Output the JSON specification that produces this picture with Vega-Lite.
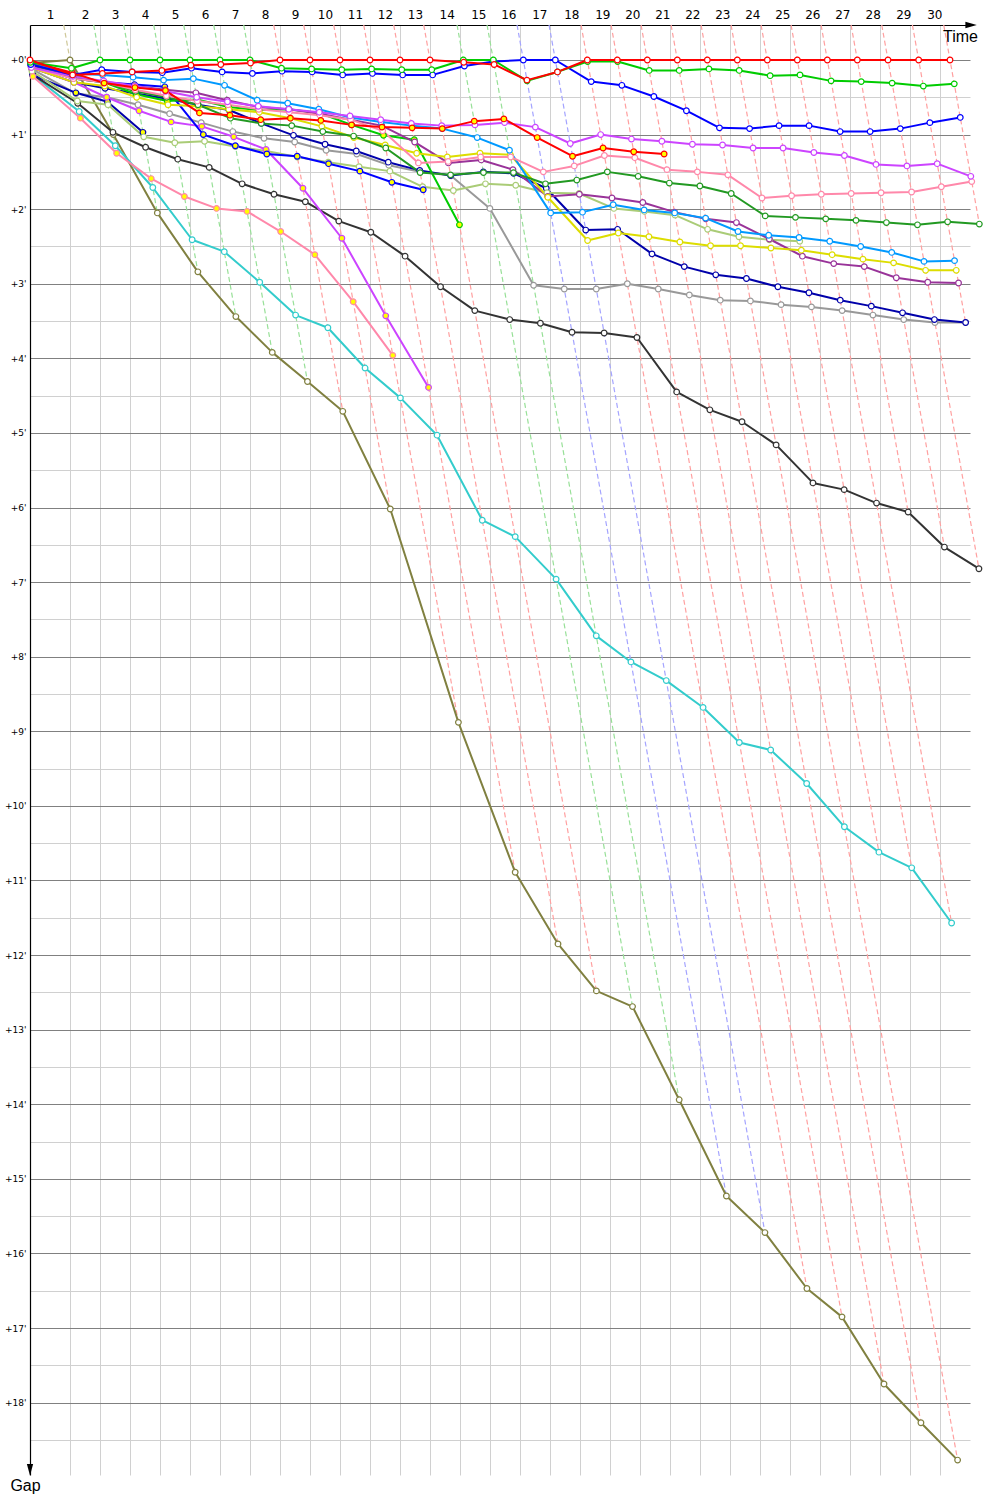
{
"$schema":"https://vega.github.io/schema/vega-lite/v6.json",
"width":940,"height":1450,
"autosize":{"type":"none"},
"padding":{"left":30,"top":25,"right":30,"bottom":25},
"background":"white",
"config":{"view":{"stroke":null}},
"datasets":{
"laps":[
{"lap":1,"lead":"O","t":2.53,"g":-0.47},{"lap":1,"lead":"O","t":3.78,"g":0.78},
{"lap":2,"lead":"G","t":4.78,"g":-0.47},{"lap":2,"lead":"G","t":6.5,"g":1.25},
{"lap":3,"lead":"G","t":7.03,"g":-0.47},{"lap":3,"lead":"G","t":9.55,"g":2.05},
{"lap":4,"lead":"G","t":9.28,"g":-0.47},{"lap":4,"lead":"G","t":12.59,"g":2.84},
{"lap":5,"lead":"G","t":11.53,"g":-0.47},{"lap":5,"lead":"G","t":15.44,"g":3.44},
{"lap":6,"lead":"G","t":13.78,"g":-0.47},{"lap":6,"lead":"G","t":18.17,"g":3.92},
{"lap":7,"lead":"G","t":16.03,"g":-0.47},{"lap":7,"lead":"G","t":20.81,"g":4.31},
{"lap":8,"lead":"R","t":18.28,"g":-0.47},{"lap":8,"lead":"R","t":23.46,"g":4.71},
{"lap":9,"lead":"R","t":20.53,"g":-0.47},{"lap":9,"lead":"R","t":27.02,"g":6.02},
{"lap":10,"lead":"R","t":22.78,"g":-0.47},{"lap":10,"lead":"R","t":32.13,"g":8.88},
{"lap":11,"lead":"R","t":25.03,"g":-0.47},{"lap":11,"lead":"R","t":36.39,"g":10.89},
{"lap":12,"lead":"R","t":27.28,"g":-0.47},{"lap":12,"lead":"R","t":39.6,"g":11.85},
{"lap":13,"lead":"R","t":29.53,"g":-0.47},{"lap":13,"lead":"R","t":42.48,"g":12.48},
{"lap":14,"lead":"G","t":32.03,"g":-0.47},{"lap":14,"lead":"G","t":45.19,"g":12.69},
{"lap":15,"lead":"G","t":34.28,"g":-0.47},{"lap":15,"lead":"G","t":48.69,"g":13.94},
{"lap":16,"lead":"B","t":36.53,"g":-0.47},{"lap":16,"lead":"B","t":52.23,"g":15.23},
{"lap":17,"lead":"B","t":38.93,"g":-0.47},{"lap":17,"lead":"B","t":55.12,"g":15.72},
{"lap":18,"lead":"R","t":41.33,"g":-0.47},{"lap":18,"lead":"R","t":58.27,"g":16.47},
{"lap":19,"lead":"R","t":43.58,"g":-0.47},{"lap":19,"lead":"R","t":60.9,"g":16.85},
{"lap":20,"lead":"R","t":45.83,"g":-0.47},{"lap":20,"lead":"R","t":64.05,"g":17.75},
{"lap":21,"lead":"R","t":48.08,"g":-0.47},{"lap":21,"lead":"R","t":66.82,"g":18.27},
{"lap":22,"lead":"R","t":50.33,"g":-0.47},{"lap":22,"lead":"R","t":69.57,"g":18.77},
{"lap":23,"lead":"R","t":52.58,"g":-0.47},{"lap":23,"lead":"R","t":63.67,"g":10.62},
{"lap":24,"lead":"R","t":54.83,"g":-0.47},{"lap":24,"lead":"R","t":66.13,"g":10.83},
{"lap":25,"lead":"R","t":57.08,"g":-0.47},{"lap":25,"lead":"R","t":69.12,"g":11.57},
{"lap":26,"lead":"R","t":59.33,"g":-0.47},{"lap":26,"lead":"R","t":65.86,"g":6.06},
{"lap":27,"lead":"R","t":61.58,"g":-0.47},{"lap":27,"lead":"R","t":68.58,"g":6.53},
{"lap":28,"lead":"R","t":63.88,"g":-0.47},{"lap":28,"lead":"R","t":71.17,"g":6.82},
{"lap":29,"lead":"R","t":66.18,"g":-0.47},{"lap":29,"lead":"R","t":70.17,"g":3.52},
{"lap":30,"lead":"R","t":68.53,"g":-0.47},{"lap":30,"lead":"R","t":71.2,"g":2.2}
],
"arr":[{"a":"x","t":70.58,"g":-0.469},{"a":"y","t":0,"g":18.9}],
"drv":[
{"d":"OL","t":0.04,"g":0.04},{"d":"OL","t":3.0,"g":0},{"d":"OL","t":6.25,"g":1.0},{"d":"OL","t":9.55,"g":2.05},{"d":"OL","t":12.59,"g":2.84},{"d":"OL","t":15.44,"g":3.44},{"d":"OL","t":18.17,"g":3.92},{"d":"OL","t":20.81,"g":4.31},{"d":"OL","t":23.46,"g":4.71},{"d":"OL","t":27.02,"g":6.02},{"d":"OL","t":32.13,"g":8.88},{"d":"OL","t":36.39,"g":10.89},{"d":"OL","t":39.6,"g":11.85},{"d":"OL","t":42.48,"g":12.48},{"d":"OL","t":45.19,"g":12.69},{"d":"OL","t":48.69,"g":13.94},{"d":"OL","t":52.23,"g":15.23},{"d":"OL","t":55.12,"g":15.72},{"d":"OL","t":58.27,"g":16.47},{"d":"OL","t":60.9,"g":16.85},{"d":"OL","t":64.05,"g":17.75},{"d":"OL","t":66.82,"g":18.27},{"d":"OL","t":69.57,"g":18.77},
{"d":"CY","t":0.2,"g":0.2},{"d":"CY","t":3.69,"g":0.69},{"d":"CY","t":6.4,"g":1.15},{"d":"CY","t":9.21,"g":1.71},{"d":"CY","t":12.16,"g":2.41},{"d":"CY","t":14.57,"g":2.57},{"d":"CY","t":17.23,"g":2.98},{"d":"CY","t":19.92,"g":3.42},{"d":"CY","t":22.34,"g":3.59},{"d":"CY","t":25.13,"g":4.13},{"d":"CY","t":27.78,"g":4.53},{"d":"CY","t":30.53,"g":5.03},{"d":"CY","t":33.92,"g":6.17},{"d":"CY","t":36.39,"g":6.39},{"d":"CY","t":39.46,"g":6.96},{"d":"CY","t":42.47,"g":7.72},{"d":"CY","t":45.07,"g":8.07},{"d":"CY","t":47.72,"g":8.32},{"d":"CY","t":50.48,"g":8.68},{"d":"CY","t":53.2,"g":9.15},{"d":"CY","t":55.55,"g":9.25},{"d":"CY","t":58.25,"g":9.7},{"d":"CY","t":61.08,"g":10.28},{"d":"CY","t":63.67,"g":10.62},{"d":"CY","t":66.13,"g":10.83},{"d":"CY","t":69.12,"g":11.57},
{"d":"BK","t":0.2,"g":0.2},{"d":"BK","t":3.58,"g":0.58},{"d":"BK","t":6.22,"g":0.97},{"d":"BK","t":8.67,"g":1.17},{"d":"BK","t":11.08,"g":1.33},{"d":"BK","t":13.44,"g":1.44},{"d":"BK","t":15.91,"g":1.66},{"d":"BK","t":18.3,"g":1.8},{"d":"BK","t":20.65,"g":1.9},{"d":"BK","t":23.16,"g":2.16},{"d":"BK","t":25.56,"g":2.31},{"d":"BK","t":28.13,"g":2.63},{"d":"BK","t":30.79,"g":3.04},{"d":"BK","t":33.36,"g":3.36},{"d":"BK","t":35.98,"g":3.48},{"d":"BK","t":38.28,"g":3.53},{"d":"BK","t":40.65,"g":3.65},{"d":"BK","t":43.06,"g":3.66},{"d":"BK","t":45.52,"g":3.72},{"d":"BK","t":48.5,"g":4.45},{"d":"BK","t":50.99,"g":4.69},{"d":"BK","t":53.4,"g":4.85},{"d":"BK","t":55.96,"g":5.16},{"d":"BK","t":58.72,"g":5.67},{"d":"BK","t":61.06,"g":5.76},{"d":"BK","t":63.49,"g":5.94},{"d":"BK","t":65.86,"g":6.06},{"d":"BK","t":68.58,"g":6.53},{"d":"BK","t":71.17,"g":6.82},
{"d":"GR","t":0.12,"g":0.12},{"d":"GR","t":3.45,"g":0.45},{"d":"GR","t":5.75,"g":0.5},{"d":"GR","t":8.1,"g":0.6},{"d":"GR","t":10.47,"g":0.72},{"d":"GR","t":12.84,"g":0.84},{"d":"GR","t":15.21,"g":0.96},{"d":"GR","t":17.55,"g":1.05},{"d":"GR","t":19.85,"g":1.1},{"d":"GR","t":22.21,"g":1.21},{"d":"GR","t":24.51,"g":1.26},{"d":"GR","t":26.91,"g":1.41},{"d":"GR","t":29.25,"g":1.5},{"d":"GR","t":31.55,"g":1.55},{"d":"GR","t":34.49,"g":1.99},{"d":"GR","t":37.77,"g":3.02},{"d":"GR","t":40.07,"g":3.07},{"d":"GR","t":42.47,"g":3.07},{"d":"GR","t":44.8,"g":3.0},{"d":"GR","t":47.12,"g":3.07},{"d":"GR","t":49.45,"g":3.15},{"d":"GR","t":51.77,"g":3.22},{"d":"GR","t":54.03,"g":3.23},{"d":"GR","t":56.33,"g":3.28},{"d":"GR","t":58.61,"g":3.31},{"d":"GR","t":60.91,"g":3.36},{"d":"GR","t":63.22,"g":3.42},{"d":"GR","t":65.53,"g":3.48},{"d":"GR","t":67.87,"g":3.52},{"d":"GR","t":70.17,"g":3.52},
{"d":"NV","t":0.1,"g":0.1},{"d":"NV","t":3.3,"g":0.3},{"d":"NV","t":5.63,"g":0.38},{"d":"NV","t":7.95,"g":0.45},{"d":"NV","t":10.27,"g":0.52},{"d":"NV","t":12.6,"g":0.6},{"d":"NV","t":14.92,"g":0.67},{"d":"NV","t":17.35,"g":0.85},{"d":"NV","t":19.76,"g":1.01},{"d":"NV","t":22.13,"g":1.13},{"d":"NV","t":24.47,"g":1.22},{"d":"NV","t":26.87,"g":1.37},{"d":"NV","t":29.23,"g":1.48},{"d":"NV","t":31.55,"g":1.55},{"d":"NV","t":34.0,"g":1.5},{"d":"NV","t":36.27,"g":1.52},{"d":"NV","t":38.72,"g":1.72},{"d":"NV","t":41.68,"g":2.28},{"d":"NV","t":44.07,"g":2.27},{"d":"NV","t":46.65,"g":2.6},{"d":"NV","t":49.07,"g":2.77},{"d":"NV","t":51.43,"g":2.88},{"d":"NV","t":53.73,"g":2.93},{"d":"NV","t":56.09,"g":3.04},{"d":"NV","t":58.42,"g":3.12},{"d":"NV","t":60.77,"g":3.22},{"d":"NV","t":63.1,"g":3.3},{"d":"NV","t":65.44,"g":3.39},{"d":"NV","t":67.83,"g":3.48},{"d":"NV","t":70.17,"g":3.52},
{"d":"NV2","t":0.2,"g":0.2},{"d":"NV2","t":3.44,"g":0.44},{"d":"NV2","t":5.81,"g":0.56},{"d":"NV2","t":8.47,"g":0.97},
{"d":"LO","t":0.15,"g":0.15},{"d":"LO","t":3.55,"g":0.55},{"d":"LO","t":5.85,"g":0.6},{"d":"LO","t":8.53,"g":1.03},{"d":"LO","t":10.86,"g":1.11},{"d":"LO","t":13.09,"g":1.09},{"d":"LO","t":15.41,"g":1.16},{"d":"LO","t":17.72,"g":1.22},{"d":"LO","t":20.05,"g":1.3},{"d":"LO","t":22.37,"g":1.37},{"d":"LO","t":24.68,"g":1.43},{"d":"LO","t":26.99,"g":1.49},{"d":"LO","t":29.45,"g":1.7},{"d":"LO","t":31.75,"g":1.75},{"d":"LO","t":34.16,"g":1.66},{"d":"LO","t":36.43,"g":1.68},{"d":"LO","t":38.78,"g":1.78},{"d":"LO","t":41.19,"g":1.79},{"d":"LO","t":43.79,"g":1.99},{"d":"LO","t":46.08,"g":2.03},{"d":"LO","t":48.38,"g":2.08},{"d":"LO","t":50.82,"g":2.27},{"d":"LO","t":53.17,"g":2.37},{"d":"LO","t":55.46,"g":2.41},{"d":"LO","t":57.73,"g":2.43},
{"d":"P2","t":0.22,"g":0.22},{"d":"P2","t":3.78,"g":0.78},{"d":"P2","t":6.5,"g":1.25},{"d":"P2","t":9.09,"g":1.59},{"d":"P2","t":11.58,"g":1.83},{"d":"P2","t":13.99,"g":1.99},{"d":"P2","t":16.28,"g":2.03},{"d":"P2","t":18.8,"g":2.3},{"d":"P2","t":21.36,"g":2.61},{"d":"P2","t":24.24,"g":3.24},{"d":"P2","t":27.21,"g":3.96},
{"d":"V2","t":0.1,"g":0.1},{"d":"V2","t":3.3,"g":0.3},{"d":"V2","t":5.75,"g":0.5},{"d":"V2","t":8.18,"g":0.68},{"d":"V2","t":10.58,"g":0.83},{"d":"V2","t":12.89,"g":0.89},{"d":"V2","t":15.28,"g":1.03},{"d":"V2","t":17.7,"g":1.2},{"d":"V2","t":20.47,"g":1.72},{"d":"V2","t":23.39,"g":2.39},{"d":"V2","t":26.68,"g":3.43},{"d":"V2","t":29.89,"g":4.39},
{"d":"B2","t":0.08,"g":0.08},{"d":"B2","t":3.25,"g":0.25},{"d":"B2","t":5.55,"g":0.3},{"d":"B2","t":7.83,"g":0.33},{"d":"B2","t":10.11,"g":0.36},{"d":"B2","t":13.0,"g":1.0},{"d":"B2","t":15.4,"g":1.15},{"d":"B2","t":17.76,"g":1.26},{"d":"B2","t":20.04,"g":1.29},{"d":"B2","t":22.39,"g":1.39},{"d":"B2","t":24.74,"g":1.49},{"d":"B2","t":27.14,"g":1.64},{"d":"B2","t":29.49,"g":1.74},
{"d":"G2","t":0.05,"g":0.05},{"d":"G2","t":3.2,"g":0.2},{"d":"G2","t":5.55,"g":0.3},{"d":"G2","t":7.96,"g":0.46},{"d":"G2","t":10.3,"g":0.55},{"d":"G2","t":12.53,"g":0.53},{"d":"G2","t":14.88,"g":0.63},{"d":"G2","t":17.17,"g":0.67},{"d":"G2","t":19.41,"g":0.66},{"d":"G2","t":21.71,"g":0.71},{"d":"G2","t":24.12,"g":0.87},{"d":"G2","t":26.51,"g":1.01},{"d":"G2","t":28.82,"g":1.07},{"d":"G2","t":32.21,"g":2.21},
{"d":"PU","t":0.08,"g":0.08},{"d":"PU","t":3.22,"g":0.22},{"d":"PU","t":5.55,"g":0.3},{"d":"PU","t":7.85,"g":0.35},{"d":"PU","t":10.15,"g":0.4},{"d":"PU","t":12.44,"g":0.44},{"d":"PU","t":14.79,"g":0.54},{"d":"PU","t":17.13,"g":0.63},{"d":"PU","t":19.41,"g":0.66},{"d":"PU","t":21.72,"g":0.72},{"d":"PU","t":24.05,"g":0.8},{"d":"PU","t":26.38,"g":0.88},{"d":"PU","t":28.85,"g":1.1},{"d":"PU","t":31.38,"g":1.38},{"d":"PU","t":33.84,"g":1.34},{"d":"PU","t":36.22,"g":1.47},{"d":"PU","t":38.83,"g":1.83},{"d":"PU","t":41.2,"g":1.8},{"d":"PU","t":43.65,"g":1.85},{"d":"PU","t":45.96,"g":1.91},{"d":"PU","t":48.34,"g":2.04},{"d":"PU","t":50.68,"g":2.13},{"d":"PU","t":52.98,"g":2.18},{"d":"PU","t":55.45,"g":2.4},{"d":"PU","t":57.93,"g":2.63},{"d":"PU","t":60.28,"g":2.73},{"d":"PU","t":62.57,"g":2.77},{"d":"PU","t":64.97,"g":2.92},{"d":"PU","t":67.33,"g":2.98},{"d":"PU","t":69.64,"g":2.99},
{"d":"Y","t":0.1,"g":0.1},{"d":"Y","t":3.3,"g":0.3},{"d":"Y","t":5.6,"g":0.35},{"d":"Y","t":8.0,"g":0.5},{"d":"Y","t":10.35,"g":0.6},{"d":"Y","t":12.62,"g":0.62},{"d":"Y","t":14.91,"g":0.66},{"d":"Y","t":17.2,"g":0.7},{"d":"Y","t":19.53,"g":0.78},{"d":"Y","t":21.89,"g":0.89},{"d":"Y","t":24.29,"g":1.04},{"d":"Y","t":26.64,"g":1.14},{"d":"Y","t":29.0,"g":1.25},{"d":"Y","t":31.3,"g":1.3},{"d":"Y","t":33.75,"g":1.25},{"d":"Y","t":36.02,"g":1.27},{"d":"Y","t":38.84,"g":1.84},{"d":"Y","t":41.82,"g":2.42},{"d":"Y","t":44.12,"g":2.32},{"d":"Y","t":46.42,"g":2.37},{"d":"Y","t":48.74,"g":2.44},{"d":"Y","t":51.04,"g":2.49},{"d":"Y","t":53.29,"g":2.49},{"d":"Y","t":55.57,"g":2.52},{"d":"Y","t":57.85,"g":2.55},{"d":"Y","t":60.16,"g":2.61},{"d":"Y","t":62.47,"g":2.67},{"d":"Y","t":64.77,"g":2.72},{"d":"Y","t":67.17,"g":2.82},{"d":"Y","t":69.47,"g":2.82},
{"d":"LB","t":0.05,"g":0.05},{"d":"LB","t":3.18,"g":0.18},{"d":"LB","t":5.45,"g":0.2},{"d":"LB","t":7.73,"g":0.23},{"d":"LB","t":10.02,"g":0.27},{"d":"LB","t":12.25,"g":0.25},{"d":"LB","t":14.59,"g":0.34},{"d":"LB","t":17.04,"g":0.54},{"d":"LB","t":19.33,"g":0.58},{"d":"LB","t":21.66,"g":0.66},{"d":"LB","t":24.02,"g":0.77},{"d":"LB","t":26.33,"g":0.83},{"d":"LB","t":28.63,"g":0.88},{"d":"LB","t":30.92,"g":0.92},{"d":"LB","t":33.54,"g":1.04},{"d":"LB","t":35.96,"g":1.21},{"d":"LB","t":39.05,"g":2.05},{"d":"LB","t":41.44,"g":2.04},{"d":"LB","t":43.74,"g":1.94},{"d":"LB","t":46.06,"g":2.01},{"d":"LB","t":48.35,"g":2.05},{"d":"LB","t":50.67,"g":2.12},{"d":"LB","t":53.1,"g":2.3},{"d":"LB","t":55.4,"g":2.35},{"d":"LB","t":57.68,"g":2.38},{"d":"LB","t":59.98,"g":2.43},{"d":"LB","t":62.3,"g":2.5},{"d":"LB","t":64.63,"g":2.58},{"d":"LB","t":67.05,"g":2.7},{"d":"LB","t":69.34,"g":2.69},
{"d":"DG","t":0.05,"g":0.05},{"d":"DG","t":3.25,"g":0.25},{"d":"DG","t":5.55,"g":0.3},{"d":"DG","t":7.92,"g":0.42},{"d":"DG","t":10.25,"g":0.5},{"d":"DG","t":12.6,"g":0.6},{"d":"DG","t":15.03,"g":0.78},{"d":"DG","t":17.35,"g":0.85},{"d":"DG","t":19.63,"g":0.88},{"d":"DG","t":21.96,"g":0.96},{"d":"DG","t":24.27,"g":1.02},{"d":"DG","t":26.68,"g":1.18},{"d":"DG","t":29.26,"g":1.51},{"d":"DG","t":31.54,"g":1.54},{"d":"DG","t":34.01,"g":1.51},{"d":"DG","t":36.26,"g":1.51},{"d":"DG","t":38.66,"g":1.66},{"d":"DG","t":41.01,"g":1.61},{"d":"DG","t":43.3,"g":1.5},{"d":"DG","t":45.61,"g":1.56},{"d":"DG","t":47.95,"g":1.65},{"d":"DG","t":50.24,"g":1.69},{"d":"DG","t":52.59,"g":1.79},{"d":"DG","t":55.14,"g":2.09},{"d":"DG","t":57.41,"g":2.11},{"d":"DG","t":59.68,"g":2.13},{"d":"DG","t":61.95,"g":2.15},{"d":"DG","t":64.23,"g":2.18},{"d":"DG","t":66.56,"g":2.21},{"d":"DG","t":68.82,"g":2.17},{"d":"DG","t":71.2,"g":2.2},
{"d":"P1","t":0.1,"g":0.1},{"d":"P1","t":3.25,"g":0.25},{"d":"P1","t":5.55,"g":0.3},{"d":"P1","t":7.9,"g":0.4},{"d":"P1","t":10.23,"g":0.48},{"d":"P1","t":12.55,"g":0.55},{"d":"P1","t":14.85,"g":0.6},{"d":"P1","t":17.16,"g":0.66},{"d":"P1","t":19.45,"g":0.7},{"d":"P1","t":21.74,"g":0.74},{"d":"P1","t":24.05,"g":0.8},{"d":"P1","t":26.45,"g":0.95},{"d":"P1","t":29.13,"g":1.38},{"d":"P1","t":31.36,"g":1.36},{"d":"P1","t":33.8,"g":1.3},{"d":"P1","t":36.05,"g":1.3},{"d":"P1","t":38.5,"g":1.5},{"d":"P1","t":40.82,"g":1.42},{"d":"P1","t":43.08,"g":1.28},{"d":"P1","t":45.36,"g":1.31},{"d":"P1","t":47.77,"g":1.47},{"d":"P1","t":50.05,"g":1.5},{"d":"P1","t":52.34,"g":1.54},{"d":"P1","t":54.9,"g":1.85},{"d":"P1","t":57.12,"g":1.82},{"d":"P1","t":59.35,"g":1.8},{"d":"P1","t":61.59,"g":1.79},{"d":"P1","t":63.83,"g":1.78},{"d":"P1","t":66.12,"g":1.77},{"d":"P1","t":68.35,"g":1.7},{"d":"P1","t":70.63,"g":1.63},
{"d":"V1","t":0.1,"g":0.1},{"d":"V1","t":3.22,"g":0.22},{"d":"V1","t":5.53,"g":0.28},{"d":"V1","t":7.85,"g":0.35},{"d":"V1","t":10.17,"g":0.42},{"d":"V1","t":12.5,"g":0.5},{"d":"V1","t":14.81,"g":0.56},{"d":"V1","t":17.12,"g":0.62},{"d":"V1","t":19.41,"g":0.66},{"d":"V1","t":21.7,"g":0.7},{"d":"V1","t":24.0,"g":0.75},{"d":"V1","t":26.3,"g":0.8},{"d":"V1","t":28.6,"g":0.85},{"d":"V1","t":30.88,"g":0.88},{"d":"V1","t":33.37,"g":0.87},{"d":"V1","t":35.59,"g":0.84},{"d":"V1","t":37.9,"g":0.9},{"d":"V1","t":40.52,"g":1.12},{"d":"V1","t":42.8,"g":1.0},{"d":"V1","t":45.11,"g":1.06},{"d":"V1","t":47.39,"g":1.09},{"d":"V1","t":49.68,"g":1.13},{"d":"V1","t":51.94,"g":1.14},{"d":"V1","t":54.23,"g":1.18},{"d":"V1","t":56.48,"g":1.18},{"d":"V1","t":58.79,"g":1.24},{"d":"V1","t":61.08,"g":1.28},{"d":"V1","t":63.45,"g":1.4},{"d":"V1","t":65.77,"g":1.42},{"d":"V1","t":68.04,"g":1.39},{"d":"V1","t":70.56,"g":1.56},
{"d":"R2","t":0.02,"g":0.02},{"d":"R2","t":3.17,"g":0.17},{"d":"R2","t":5.56,"g":0.31},{"d":"R2","t":7.87,"g":0.37},{"d":"R2","t":10.16,"g":0.41},{"d":"R2","t":12.71,"g":0.71},{"d":"R2","t":14.99,"g":0.74},{"d":"R2","t":17.3,"g":0.8},{"d":"R2","t":19.53,"g":0.78},{"d":"R2","t":21.81,"g":0.81},{"d":"R2","t":24.12,"g":0.87},{"d":"R2","t":26.4,"g":0.9},{"d":"R2","t":28.66,"g":0.91},{"d":"R2","t":30.92,"g":0.92},{"d":"R2","t":33.32,"g":0.82},{"d":"R2","t":35.54,"g":0.79},{"d":"R2","t":38.04,"g":1.04},{"d":"R2","t":40.69,"g":1.29},{"d":"R2","t":42.98,"g":1.18},{"d":"R2","t":45.28,"g":1.23},{"d":"R2","t":47.56,"g":1.26},
{"d":"B1","t":0.06,"g":0.06},{"d":"B1","t":3.2,"g":0.2},{"d":"B1","t":5.38,"g":0.13},{"d":"B1","t":7.66,"g":0.16},{"d":"B1","t":9.92,"g":0.17},{"d":"B1","t":12.11,"g":0.11},{"d":"B1","t":14.41,"g":0.16},{"d":"B1","t":16.68,"g":0.18},{"d":"B1","t":18.9,"g":0.15},{"d":"B1","t":21.16,"g":0.16},{"d":"B1","t":23.45,"g":0.2},{"d":"B1","t":25.68,"g":0.18},{"d":"B1","t":27.95,"g":0.2},{"d":"B1","t":30.2,"g":0.2},{"d":"B1","t":32.58,"g":0.08},{"d":"B1","t":34.77,"g":0.02},{"d":"B1","t":37.0,"g":0},{"d":"B1","t":39.4,"g":0},{"d":"B1","t":42.09,"g":0.29},{"d":"B1","t":44.39,"g":0.34},{"d":"B1","t":46.79,"g":0.49},{"d":"B1","t":49.23,"g":0.68},{"d":"B1","t":51.71,"g":0.91},{"d":"B1","t":53.97,"g":0.92},{"d":"B1","t":56.18,"g":0.88},{"d":"B1","t":58.43,"g":0.88},{"d":"B1","t":60.76,"g":0.96},{"d":"B1","t":63.01,"g":0.96},{"d":"B1","t":65.27,"g":0.92},{"d":"B1","t":67.49,"g":0.84},{"d":"B1","t":69.77,"g":0.77},
{"d":"G1","t":0.03,"g":0.03},{"d":"G1","t":3.11,"g":0.11},{"d":"G1","t":5.25,"g":0},{"d":"G1","t":7.5,"g":0},{"d":"G1","t":9.75,"g":0},{"d":"G1","t":12.0,"g":0},{"d":"G1","t":14.25,"g":0},{"d":"G1","t":16.5,"g":0},{"d":"G1","t":18.86,"g":0.11},{"d":"G1","t":21.12,"g":0.12},{"d":"G1","t":23.38,"g":0.13},{"d":"G1","t":25.62,"g":0.12},{"d":"G1","t":27.88,"g":0.13},{"d":"G1","t":30.13,"g":0.13},{"d":"G1","t":32.5,"g":0},{"d":"G1","t":34.75,"g":0},{"d":"G1","t":37.28,"g":0.28},{"d":"G1","t":39.56,"g":0.16},{"d":"G1","t":41.82,"g":0.02},{"d":"G1","t":44.07,"g":0.02},{"d":"G1","t":46.44,"g":0.14},{"d":"G1","t":48.69,"g":0.14},{"d":"G1","t":50.92,"g":0.12},{"d":"G1","t":53.19,"g":0.14},{"d":"G1","t":55.51,"g":0.21},{"d":"G1","t":57.75,"g":0.2},{"d":"G1","t":60.08,"g":0.28},{"d":"G1","t":62.34,"g":0.29},{"d":"G1","t":64.66,"g":0.31},{"d":"G1","t":67.0,"g":0.35},{"d":"G1","t":69.32,"g":0.32},
{"d":"R1","t":0,"g":0},{"d":"R1","t":3.2,"g":0.2},{"d":"R1","t":5.43,"g":0.18},{"d":"R1","t":7.66,"g":0.16},{"d":"R1","t":9.89,"g":0.14},{"d":"R1","t":12.07,"g":0.07},{"d":"R1","t":14.31,"g":0.06},{"d":"R1","t":16.54,"g":0.04},{"d":"R1","t":18.75,"g":0},{"d":"R1","t":21.0,"g":0},{"d":"R1","t":23.25,"g":0},{"d":"R1","t":25.5,"g":0},{"d":"R1","t":27.75,"g":0},{"d":"R1","t":30.0,"g":0},{"d":"R1","t":32.53,"g":0.03},{"d":"R1","t":34.81,"g":0.06},{"d":"R1","t":37.27,"g":0.27},{"d":"R1","t":39.56,"g":0.16},{"d":"R1","t":41.8,"g":0},{"d":"R1","t":44.05,"g":0},{"d":"R1","t":46.3,"g":0},{"d":"R1","t":48.55,"g":0},{"d":"R1","t":50.8,"g":0},{"d":"R1","t":53.05,"g":0},{"d":"R1","t":55.3,"g":0},{"d":"R1","t":57.55,"g":0},{"d":"R1","t":59.8,"g":0},{"d":"R1","t":62.05,"g":0},{"d":"R1","t":64.35,"g":0},{"d":"R1","t":66.65,"g":0},{"d":"R1","t":69.0,"g":0}
]},
"encoding":{
"y":{"field":"g","type":"quantitative","scale":{"domain":[-0.469,18.97],"reverse":true,"nice":false,"zero":false},
"axis":{"orient":"left","values":[0,0.5,1,1.5,2,2.5,3,3.5,4,4.5,5,5.5,6,6.5,7,7.5,8,8.5,9,9.5,10,10.5,11,11.5,12,12.5,13,13.5,14,14.5,15,15.5,16,16.5,17,17.5,18,18.5],
"grid":true,"gridColor":{"condition":{"test":"datum.value % 1 === 0","value":"#808080"},"value":"#d0d0d0"},"gridWidth":1,
"ticks":false,"domain":true,"domainColor":"#000000","domainWidth":1.2,"labelOverlap":false,
"labelExpr":"datum.value % 1 === 0 ? '+' + datum.value + \"'\" : ''",
"labelFont":"DejaVu Sans","labelFontSize":9,"labelColor":"#000000","labelPadding":4,
"title":"Gap","titleAngle":0,"titleX":-5,"titleY":1465,"titleAlign":"center","titleBaseline":"alphabetic","titleFont":"Liberation Sans","titleFontSize":16,"titleFontWeight":"normal","titleColor":"#000000"}}
},
"layer":[
{"data":{"name":"laps"},
"mark":{"type":"line","strokeWidth":1.2,"strokeDash":[5,3]},
"encoding":{
"x":{"field":"t","type":"quantitative","scale":{"domain":[0,70.5],"nice":false,"zero":false},
"axis":{"orient":"top","values":[1.5,4.125,6.375,8.625,10.875,13.125,15.375,17.625,19.875,22.125,24.375,26.625,28.875,31.25,33.625,35.875,38.2,40.6,42.925,45.175,47.425,49.675,51.925,54.175,56.425,58.675,60.925,63.2,65.5,67.825],
"labelExpr":"indexof([1.5,4.125,6.375,8.625,10.875,13.125,15.375,17.625,19.875,22.125,24.375,26.625,28.875,31.25,33.625,35.875,38.2,40.6,42.925,45.175,47.425,49.675,51.925,54.175,56.425,58.675,60.925,63.2,65.5,67.825], datum.value) + 1",
"grid":false,"ticks":false,"domain":true,"domainColor":"#000000","domainWidth":1.2,"labelOverlap":false,
"labelFont":"DejaVu Sans","labelFontSize":12,"labelColor":"#000000","labelPadding":4,
"title":"Time","titleX":930,"titleY":16,"titleAlign":"center","titleBaseline":"alphabetic","titleFont":"Liberation Sans","titleFontSize":16,"titleFontWeight":"normal","titleColor":"#000000"}},
"detail":{"field":"lap","type":"nominal"},
"color":{"field":"lead","type":"nominal","scale":{"domain":["O","G","B","R"],"range":["#cfc899","#98e098","#a4a4ff","#ffa0a0"]},"legend":null}}},
{"data":{"name":"drv"},
"mark":{"type":"line","strokeWidth":2,"strokeJoin":"round"},
"encoding":{
"x":{"field":"t","type":"quantitative","scale":{"domain":[0,70.5],"nice":false,"zero":false},
"axis":{"orient":"bottom","values":[3,5.25,7.5,9.75,12,14.25,16.5,18.75,21,23.25,25.5,27.75,30,32.25,34.5,36.75,39,41.25,43.5,45.75,48,50.25,52.5,54.75,57,59.25,61.5,63.75,66,68.25],
"grid":true,"gridColor":"#d0d0d0","gridWidth":1,"labels":false,"ticks":false,"domain":false,"title":null}},
"stroke":{"field":"d","type":"nominal","scale":{"domain":["OL","CY","BK","GR","NV","NV2","LO","P2","V2","B2","G2","PU","Y","LB","DG","P1","V1","R2","B1","G1","R1"],"range":["#808040","#33cccc","#333333","#999999","#0000aa","#0000aa","#aacc77","#ff88aa","#cc44ff","#0000ff","#00cc00","#993399","#dddd00","#0099ff","#229922","#ff88aa","#cc44ff","#ff0000","#0000ff","#00cc00","#ff0000"]},"legend":null}}},
{"data":{"name":"drv"},
"mark":{"type":"point","shape":"circle","filled":true,"size":32,"strokeWidth":1.2,"opacity":1},
"encoding":{
"x":{"field":"t","type":"quantitative","scale":{"domain":[0,70.5],"nice":false,"zero":false},"axis":null},
"stroke":{"field":"d","type":"nominal","scale":{"domain":["OL","CY","BK","GR","NV","NV2","LO","P2","V2","B2","G2","PU","Y","LB","DG","P1","V1","R2","B1","G1","R1"],"range":["#808040","#33cccc","#333333","#999999","#0000aa","#0000aa","#aacc77","#ff88aa","#cc44ff","#0000ff","#00cc00","#993399","#dddd00","#0099ff","#229922","#ff88aa","#cc44ff","#ff0000","#0000ff","#00cc00","#ff0000"]},"legend":null},
"fill":{"field":"d","type":"nominal","scale":{"domain":["OL","CY","BK","GR","NV","NV2","LO","P2","V2","B2","G2","PU","Y","LB","DG","P1","V1","R2","B1","G1","R1"],"range":["#ffffff","#ffffff","#ffffff","#ffffff","#ffffff","#ffff00","#ffffff","#ffff00","#ffff00","#ffff00","#ffff00","#ffffff","#ffffff","#ffffff","#ffffff","#ffffff","#ffffff","#ffff00","#ffffff","#ffffff","#ffffff"]},"legend":null}}},
{"data":{"name":"arr"},
"mark":{"type":"point","filled":true,"size":130,"color":"#000000","opacity":1},
"encoding":{
"x":{"field":"t","type":"quantitative","scale":{"domain":[0,70.5],"nice":false,"zero":false},"axis":null},
"shape":{"field":"a","type":"nominal","scale":{"domain":["x","y"],"range":["M-1,-0.55L1,0L-1,0.55Z","M-0.55,-1L0.55,-1L0,1Z"]},"legend":null}}}
],
"resolve":{"axis":{"x":"independent"}}
}
